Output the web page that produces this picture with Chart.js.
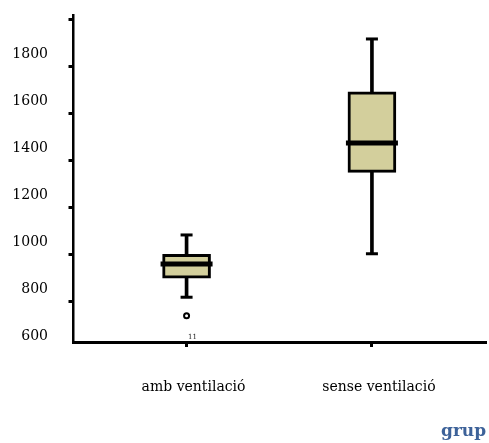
<!DOCTYPE html>
<html>
<head>
<meta charset="utf-8">
<script src="https://cdn.jsdelivr.net/npm/chart.js@4.4.1/dist/chart.umd.min.js"></script>
<style>
  body { margin: 0; background: #fff; }
  #wrap { position: relative; width: 489px; height: 443px; overflow: hidden; }
  #mark { position: absolute; left: 441px; top: 420px; font: bold 17px "DejaVu Serif", serif; color: #3d6299; white-space: nowrap; }
</style>
</head>
<body>
<div id="wrap">
  <canvas id="boxChart" width="489" height="443"></canvas>
  <div id="mark">grup</div>
</div>
<script>
// box plot values
var categories = ['amb ventilació', 'sense ventilació'];
var whiskerLow = [765, 950];
var q1 = [846, 1296];
var median = [906, 1421];
var q3 = [948, 1639];
var whiskerHigh = [1030, 1864];

// outliers: category index, value, case number
var outlierCat = [0];
var outlierVal = [686];
var outlierCase = ['11'];

var yLabels = [600, 800, 1000, 1200, 1400, 1600, 1800];

var yMin = 574.5, yMax = 1966;
var markShift = 145; // tick marks sit off the labels in the original

var labelFont = { family: 'DejaVu Serif', size: 14 };

// the wide median "points" should not push the chart area inwards
Chart.LineController.prototype.getMaxOverflow = function() { return false; };

function pts(arr) {
    return arr.map(function(v, i) { return { x: i + 1, y: v }; });
}

function noPadV(s) { s.paddingTop = 0; s.paddingBottom = 0; }

var caseLabels = {
    id: 'caseLabels',
    afterDatasetsDraw: function(chart) {
        var ctx = chart.ctx, xs = chart.scales.x, ys = chart.scales.y;
        ctx.save();
        ctx.font = '7px "DejaVu Serif"';
        ctx.fillStyle = '#222';
        ctx.textAlign = 'center';
        ctx.textBaseline = 'middle';
        for (var i = 0; i < outlierCat.length; i++) {
            ctx.fillText(outlierCase[i], xs.getPixelForValue(outlierCat[i] + 1) + 6, ys.getPixelForValue(outlierVal[i]) + 21);
        }
        ctx.restore();
    }
};

var ctx = document.getElementById('boxChart').getContext('2d');
var chart = new Chart(ctx, {
    type: 'bar',
    data: {
        datasets: [
            {
                label: 'whisker',
                data: categories.map(function(c, i) { return { x: i + 1, y: [whiskerLow[i], whiskerHigh[i]] }; }),
                backgroundColor: '#000',
                borderWidth: 0,
                barThickness: 3,
                grouped: false,
                order: 4
            },
            {
                label: 'box',
                data: categories.map(function(c, i) { return { x: i + 1, y: [q1[i], q3[i]] }; }),
                backgroundColor: '#d3cf9c',
                borderColor: '#000',
                borderWidth: 3,
                borderSkipped: false,
                barThickness: 48,
                grouped: false,
                order: 3
            },
            {
                type: 'line',
                label: 'caps',
                data: pts(whiskerHigh).concat(pts(whiskerLow)),
                showLine: false,
                pointStyle: 'line',
                pointRadius: 6,
                pointBorderWidth: 3,
                pointBorderColor: '#000',
                clip: false,
                order: 2
            },
            {
                type: 'line',
                label: 'median',
                data: pts(median),
                showLine: false,
                pointStyle: 'line',
                pointRadius: 26,
                pointBorderWidth: 5,
                pointBorderColor: '#000',
                clip: false,
                order: 1
            },
            {
                type: 'line',
                label: 'outliers',
                data: outlierCat.map(function(c, i) { return { x: c + 1, y: outlierVal[i] }; }),
                showLine: false,
                pointStyle: 'circle',
                pointRadius: 2.5,
                pointBorderWidth: 2,
                pointBorderColor: '#000',
                pointBackgroundColor: '#fff',
                clip: false,
                order: 0
            }
        ]
    },
    options: {
        responsive: false,
        animation: false,
        events: [],
        layout: { padding: { left: 0, top: 15, right: 4, bottom: 0 } },
        plugins: { legend: { display: false }, tooltip: { enabled: false } },
        scales: {
            x: {
                type: 'linear',
                offset: false,
                min: 0.39,
                max: 2.61,
                afterBuildTicks: function(s) { s.ticks = categories.map(function(c, i) { return { value: i + 1 }; }); },
                afterFit: function(s) { s.height = 101; s.paddingLeft = 0; s.paddingRight = 0; },
                ticks: {
                    callback: function(v) { return categories[Math.round(v) - 1]; },
                    font: labelFont,
                    color: '#000',
                    padding: 32,
                    labelOffset: 7,
                    maxRotation: 0,
                    autoSkip: false
                },
                grid: { offset: false, drawOnChartArea: false, tickLength: 5, lineWidth: 3, color: '#000' },
                border: { color: '#000', width: 3 }
            },
            y: {
                position: 'left',
                weight: 1,
                min: yMin,
                max: yMax,
                afterBuildTicks: function(s) { s.ticks = yLabels.map(function(v) { return { value: v }; }); },
                afterFit: function(s) { s.width = 50; noPadV(s); },
                ticks: { font: labelFont, color: '#000', padding: 2, callback: function(v) { return String(v); } },
                grid: { display: false, drawTicks: false },
                border: { display: false }
            },
            yMarks: {
                position: 'left',
                weight: 0,
                min: yMin - markShift,
                max: yMax - markShift,
                afterBuildTicks: function(s) { s.ticks = yLabels.map(function(v) { return { value: v }; }); },
                afterFit: function(s) { s.width = 23.5; noPadV(s); },
                ticks: { display: false },
                grid: { drawOnChartArea: false, tickLength: 5, lineWidth: 3, color: '#000' },
                border: { color: '#000', width: 2.5 }
            }
        }
    },
    plugins: [caseLabels]
});
</script>
</body>
</html>
